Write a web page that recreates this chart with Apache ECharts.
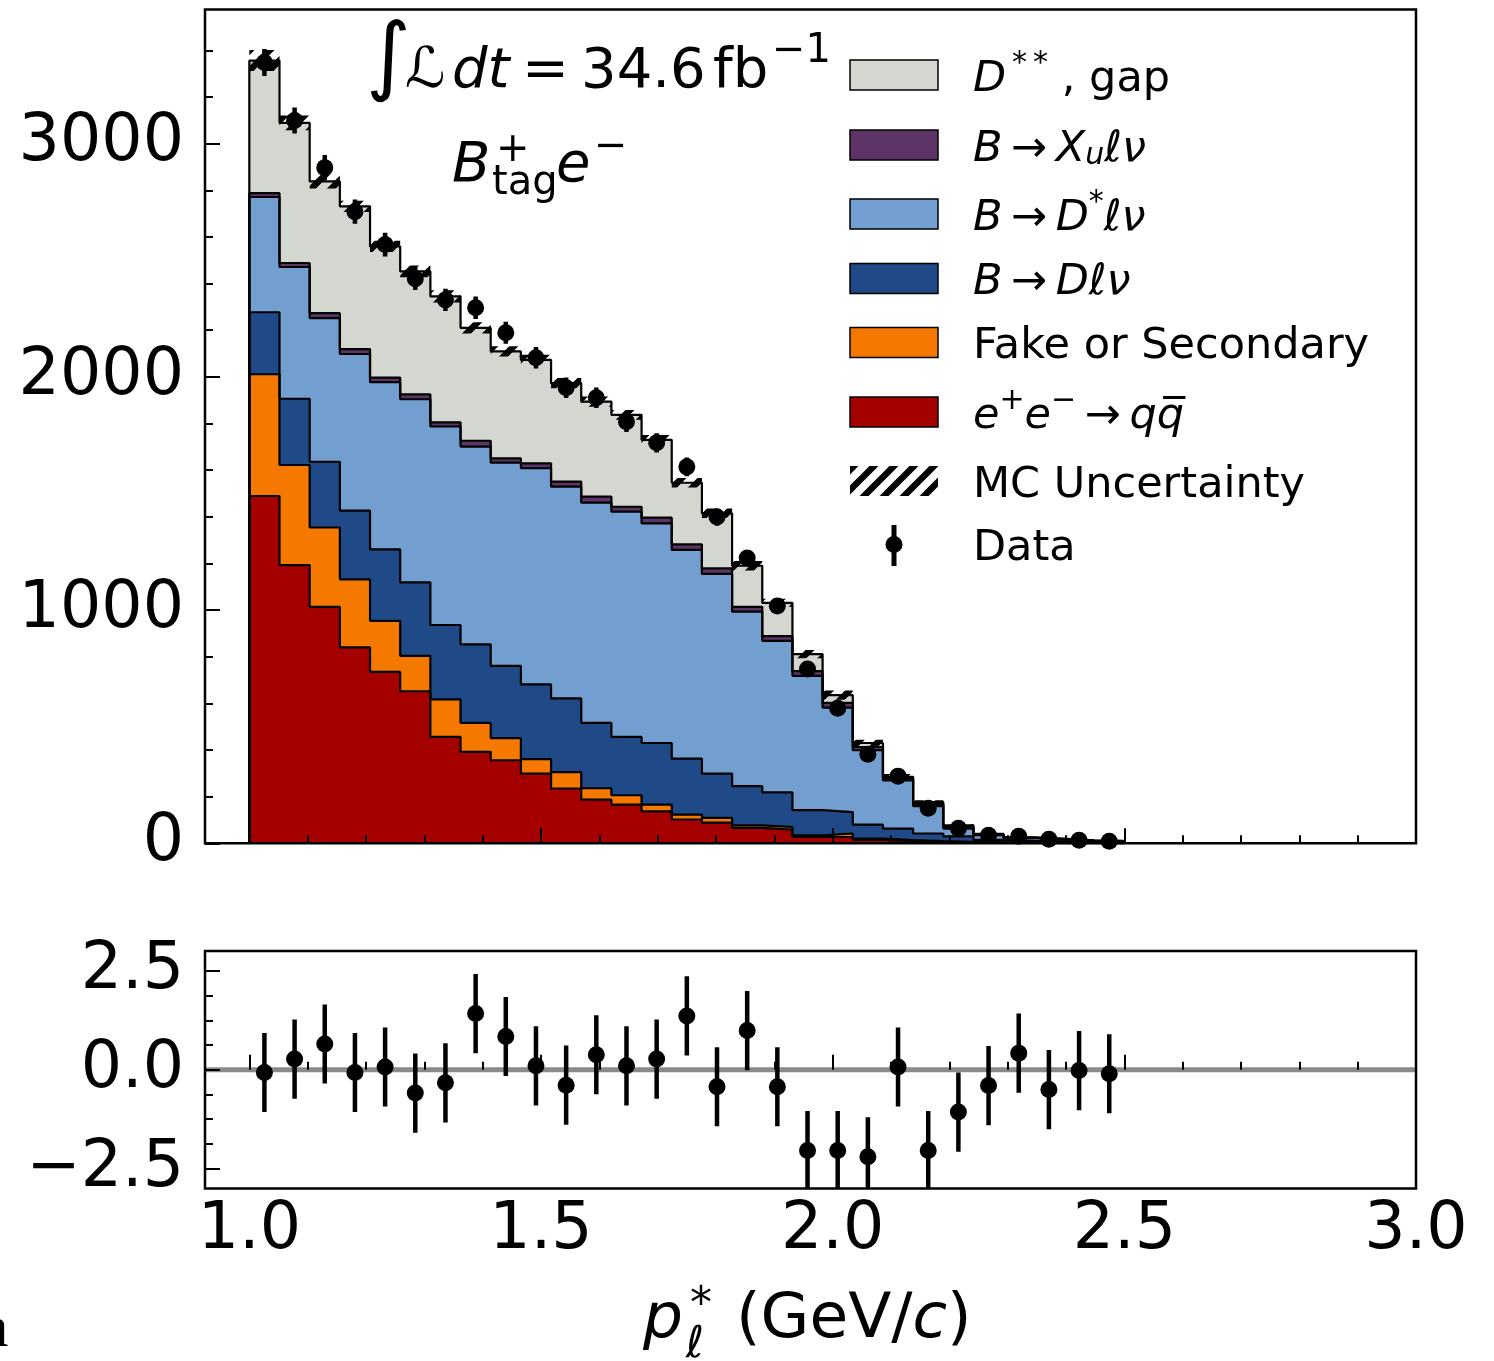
<!DOCTYPE html>
<html><head><meta charset="utf-8">
<script src="https://cdn.jsdelivr.net/npm/echarts@6/dist/echarts.min.js"></script>
<style>html,body{margin:0;padding:0;background:#fff}#c{width:1494px;height:1361px}</style>
</head><body><div id="c"></div>
<script>
// ---- data ----
const binEdges = [1.0, 1.05172, 1.10345, 1.15517, 1.2069, 1.25862, 1.31034, 1.36207, 1.41379, 1.46552,
  1.51724, 1.56897, 1.62069, 1.67241, 1.72414, 1.77586, 1.82759, 1.87931, 1.93103, 1.98276,
  2.03448, 2.08621, 2.13793, 2.18966, 2.24138, 2.2931, 2.34483, 2.39655, 2.44828, 2.5];

const qqbar     = [1489,1193,1014,840,735,652,456,392,356,299,235,187,166,137,102,89,66,59,27,27,15,10,5,3,2,1,1,1,0];
const fakeSec   = [522,429,340,292,219,152,161,124,95,62,70,49,40,29,21,20,11,11,7,15,5,4,4,3,2,2,1,1,1];
const bDlnu     = [266,284,282,294,306,315,319,337,310,320,316,280,250,264,240,190,168,148,108,92,60,49,33,24,11,7,6,2,2];
const bDstarlnu = [494,565,616,672,717,785,851,848,871,927,908,945,966,942,895,856,748,650,576,448,319,207,117,33,20,12,9,7,5];
const bXulnu    = [17,17,21,21,20,21,18,25,18,21,22,25,21,24,24,24,21,20,20,20,14,10,9,7,3,2,1,1,1];
const dssGap    = [568,601,565,612,562,527,540,484,459,444,422,408,394,334,264,236,176,143,73,33,17,5,9,7,2,2,2,1,1];
const mcUnc     = [45,32,30,24,24,25,26,24,22,22,22,22,21,21,20,20,20,17,18,20,14,12,8,6,4,3,2,2,2];

const dataVals  = [3348,3099,2897,2708,2567,2421,2330,2296,2189,2082,1953,1910,1807,1717,1614,1399,1223,1017,747,579,382,288,150,64,34,30,17,13,9];
const dataErr   = [58,56,54,52,51,49,48,48,47,46,44,44,43,41,40,37,35,32,27,24,20,17,12,8,6,5,4,4,3];

const pulls     = [-0.07,0.27,0.65,-0.07,0.07,-0.59,-0.33,1.42,0.84,0.10,-0.39,0.38,0.10,0.27,1.36,-0.43,0.99,-0.43,-2.04,-2.04,-2.20,0.07,-2.04,-1.07,-0.40,0.42,-0.50,-0.02,-0.10];
const pullErr   = [1,1,1,1,1,1,1,1,1,1,1,1,1,1,1,1,1,1,1,1,1,1,1,1,1,1,1,1,1];

const xMajorTicks = [1.0, 1.5, 2.0, 2.5, 3.0];
const xMinorTicks = [1.1,1.2,1.3,1.4,1.6,1.7,1.8,1.9,2.1,2.2,2.3,2.4,2.6,2.7,2.8,2.9];
const yMainMajor  = [0, 1000, 2000, 3000];
const yMainMinor  = [200,400,600,800,1200,1400,1600,1800,2200,2400,2600,2800,3200,3400];
const yRatioMajor = [-2.5, 0, 2.5];
const yRatioMinor = [-1.875,-1.25,-0.625,0.625,1.25,1.875];

const X_MIN = 0.924, X_MAX = 3.0, Y_MAX = 3575, R_MIN = -3, R_MAX = 3;

// layers bottom -> top
const layers = [
  {name: 'qq',    vals: qqbar,     color: '#a40000'},
  {name: 'fake',  vals: fakeSec,   color: '#f57900'},
  {name: 'Dlnu',  vals: bDlnu,     color: '#204a87'},
  {name: 'Dst',   vals: bDstarlnu, color: '#729fcf'},
  {name: 'Xu',    vals: bXulnu,    color: '#5c3566'},
  {name: 'gap',   vals: dssGap,    color: '#d3d7cf'}
];

// ---- helpers ----
const nb = dataVals.length;
const cums = [];
{
  let run = new Array(nb).fill(0);
  layers.forEach(l => { run = run.map((v, i) => v + l.vals[i]); cums.push(run.slice()); });
}
const total = cums[cums.length - 1];
const centers = binEdges.slice(0, nb).map((e, i) => (e + binEdges[i + 1]) / 2);

function stepData(cum) {
  const d = [[binEdges[0], 0]];
  for (let i = 0; i < nb; i++) d.push([binEdges[i], cum[i]]);
  d.push([binEdges[nb], cum[nb - 1]]);
  d.push([binEdges[nb], 0]);
  return d;
}

function makeHatch() {
  const s = 20, c = document.createElement('canvas');
  c.width = s; c.height = s;
  const g = c.getContext('2d');
  g.strokeStyle = '#000'; g.lineWidth = 6.5;
  for (const o of [-s, 0, s]) { g.beginPath(); g.moveTo(o - 2, s + 2); g.lineTo(o + s + 2, -2); g.stroke(); }
  return c;
}
const hatch = {image: makeHatch(), repeat: 'repeat'};

const FONT = "'DejaVu Sans', 'Noto Sans', sans-serif";

function errRender(params, api) {
  const x = api.value(0), v = api.value(1), e = api.value(2);
  const a = api.coord([x, v - e]), b = api.coord([x, v + e]);
  return {type: 'line', shape: {x1: a[0], y1: a[1], x2: b[0], y2: b[1]}, style: {stroke: '#000', lineWidth: 4.5}};
}
function hatchRender(params, api) {
  const xl = api.value(0), xr = api.value(1), t = api.value(2), u = api.value(3);
  const p1 = api.coord([xl, t + u]), p2 = api.coord([xr, t - u]);
  return {type: 'rect', shape: {x: p1[0], y: p1[1], width: p2[0] - p1[0], height: p2[1] - p1[1]}, style: {fill: hatch}};
}

// ---- axes ----
const labelStyle = {fontFamily: FONT, fontSize: 65, color: '#000'};
const fmt1 = v => v.toFixed(1).replace('-', '\u2212');
function xAx(grid, major, withLabel) {
  return {
    type: 'value', gridIndex: grid, min: X_MIN, max: X_MAX, position: 'bottom', z: 10,
    axisLine: {show: false}, splitLine: {show: false},
    axisTick: {show: true, inside: true, length: major ? 15 : 8, customValues: major ? xMajorTicks : xMinorTicks, lineStyle: {color: '#000', width: 2}},
    axisLabel: withLabel ? Object.assign({show: true, margin: 10, customValues: xMajorTicks, formatter: fmt1}, labelStyle) : {show: false}
  };
}
function yAx(grid, min, max, ticks, len, labels, formatter) {
  return {
    type: 'value', gridIndex: grid, min: min, max: max, position: 'left', z: 10,
    axisLine: {show: false}, splitLine: {show: false},
    axisTick: {show: true, inside: true, length: len, customValues: ticks, lineStyle: {color: '#000', width: 2}},
    axisLabel: labels ? Object.assign({show: true, margin: 21, customValues: ticks, formatter: formatter}, labelStyle) : {show: false}
  };
}

// ---- series ----
const series = [];
for (let k = layers.length - 1; k >= 0; k--) {
  series.push({
    type: 'line', step: 'end', xAxisIndex: 0, yAxisIndex: 0, data: stepData(cums[k]),
    symbol: 'none', showSymbol: false, silent: true, z: 2,
    lineStyle: {width: 0, opacity: 0}, areaStyle: {color: layers[k].color, opacity: 1}
  });
}
for (let k = layers.length - 1; k >= 0; k--) {
  series.push({
    type: 'line', step: 'end', xAxisIndex: 0, yAxisIndex: 0, data: stepData(cums[k]),
    symbol: 'none', showSymbol: false, silent: true, z: 3,
    lineStyle: {color: '#000', width: 2.2}
  });
}
series.push({
  type: 'custom', xAxisIndex: 0, yAxisIndex: 0, z: 4, clip: true, silent: true,
  renderItem: hatchRender, encode: {x: [0, 1], y: 2},
  data: total.map((t, i) => [binEdges[i], binEdges[i + 1], t, mcUnc[i]])
});
series.push({
  type: 'custom', xAxisIndex: 0, yAxisIndex: 0, z: 5, clip: true, silent: true,
  renderItem: errRender, encode: {x: 0, y: 1},
  data: dataVals.map((v, i) => [centers[i], v, dataErr[i]])
});
series.push({
  type: 'scatter', xAxisIndex: 0, yAxisIndex: 0, z: 6, silent: true,
  symbol: 'circle', symbolSize: 17, itemStyle: {color: '#000', opacity: 1},
  data: dataVals.map((v, i) => [centers[i], v])
});
// ratio
series.push({
  type: 'line', xAxisIndex: 2, yAxisIndex: 2, z: 2, silent: true, symbol: 'none',
  lineStyle: {color: '#8a8a8a', width: 5}, data: [[X_MIN, 0], [X_MAX, 0]]
});
series.push({
  type: 'custom', xAxisIndex: 2, yAxisIndex: 2, z: 5, clip: true, silent: true,
  renderItem: errRender, encode: {x: 0, y: 1},
  data: pulls.map((v, i) => [centers[i], v, pullErr[i]])
});
series.push({
  type: 'scatter', xAxisIndex: 2, yAxisIndex: 2, z: 6, silent: true,
  symbol: 'circle', symbolSize: 17, itemStyle: {color: '#000', opacity: 1},
  data: pulls.map((v, i) => [centers[i], v])
});

// ---- legend & annotations (graphic) ----
const legendRich = {
  n:   {fontFamily: FONT, fontSize: 43, lineHeight: 52, verticalAlign: 'bottom', color: '#000'},
  i:   {fontFamily: FONT, fontSize: 43, fontStyle: 'italic', lineHeight: 52, verticalAlign: 'bottom', color: '#000'},
  sup: {fontFamily: FONT, fontSize: 30, lineHeight: 30, verticalAlign: 'top', color: '#000'},
  sub: {fontFamily: FONT, fontSize: 30, fontStyle: 'italic', lineHeight: 30, verticalAlign: 'bottom', color: '#000'}
};
const legendEntries = [
  {cy: 75,    color: '#d3d7cf', text: '{i|D}{sup|\u2009*\u2009*}{n| , gap}'},
  {cy: 145,   color: '#5c3566', text: '{i|B}{n|\u2009\u2192\u2009}{i|X}{sub|u}{i|\u2113\u03bd}'},
  {cy: 214,   color: '#729fcf', text: '{i|B}{n|\u2009\u2192\u2009}{i|D}{sup|*}{i|\u2113\u03bd}'},
  {cy: 278.5, color: '#204a87', text: '{i|B}{n|\u2009\u2192\u2009}{i|D\u2113\u03bd}'},
  {cy: 342.5, color: '#f57900', text: '{n|Fake or Secondary}'},
  {cy: 412,   color: '#a40000', text: '{i|e}{sup|+}{i|e}{sup|\u2212}{n|\u2009\u2192\u2009}{i|q}{i|q\u0305}'},
  {cy: 481,   color: null,      text: '{n|MC Uncertainty}'},
  {cy: 544.5, color: 'data',    text: '{n|Data}'}
];
const graphics = [];
legendEntries.forEach(e => {
  if (e.color === 'data') {
    graphics.push({type: 'line', shape: {x1: 894, y1: 525, x2: 894, y2: 566}, style: {stroke: '#000', lineWidth: 5}});
    graphics.push({type: 'circle', shape: {cx: 894, cy: e.cy, r: 8.5}, style: {fill: '#000'}});
  } else if (e.color === null) {
    graphics.push({type: 'rect', shape: {x: 850, y: e.cy - 15, width: 88, height: 30}, style: {fill: hatch}});
  } else {
    graphics.push({type: 'rect', shape: {x: 850, y: e.cy - 15, width: 88, height: 30}, style: {fill: e.color, stroke: '#000', lineWidth: 1.5}});
  }
  graphics.push({type: 'text', x: 973, y: e.cy, style: {text: e.text, rich: legendRich, align: 'left', verticalAlign: 'middle', fill: '#000', fontFamily: FONT, fontSize: 43}});
});

function txt(x, y, s, size, opts) {
  return {type: 'text', x: x, y: y, style: Object.assign({text: s, fontFamily: FONT, fontSize: size, fill: '#000', align: 'left', verticalAlign: 'middle'}, opts || {})};
}
graphics.push(txt(366, 62, '\u222b', 86));
graphics.push(txt(405, 72.6, '\u2112', 56));
graphics.push(txt(452, 72.6, 'dt', 56, {fontStyle: 'italic'}));
graphics.push(txt(522, 72.6, '=', 56));
graphics.push(txt(581, 72.6, '34.6', 56));
graphics.push(txt(713, 72.6, 'fb', 56));
graphics.push(txt(772, 52, '\u22121', 40));

graphics.push(txt(452, 166, 'B', 56, {fontStyle: 'italic'}));
graphics.push(txt(496, 151, '+', 40));
graphics.push(txt(492, 184, 'tag', 40));
graphics.push(txt(556, 166, 'e', 56, {fontStyle: 'italic'}));
graphics.push(txt(594, 148, '\u2212', 40));

// x-axis title
graphics.push(txt(643, 1321, 'p', 63, {fontStyle: 'italic'}));
graphics.push(txt(690, 1307, '*', 44));
graphics.push(txt(686, 1346, '\u2113', 44, {fontStyle: 'italic'}));
graphics.push({type: 'text', x: 736, y: 1321, style: {text: '{n|(GeV/}{i|c}{n|)}', verticalAlign: 'middle', align: 'left',
  rich: {n: {fontFamily: FONT, fontSize: 63, color: '#000'}, i: {fontFamily: FONT, fontSize: 63, fontStyle: 'italic', color: '#000'}}}});
// clipped caption letter at bottom-left
graphics.push(txt(8.5, 1330, 'a', 60, {fontFamily: "'Liberation Serif', serif", align: 'right'}));

const option = {
  animation: false,
  backgroundColor: '#fff',
  grid: [
    {left: 205, right: 78, top: 9.5, bottom: 1361 - 843.3, show: true, borderColor: '#000', borderWidth: 2.5, backgroundColor: 'transparent', z: 10},
    {left: 205, right: 78, top: 951, bottom: 1361 - 1188.5, show: true, borderColor: '#000', borderWidth: 2.5, backgroundColor: 'transparent', z: 10}
  ],
  xAxis: [xAx(0, true, false), xAx(0, false, false), xAx(1, true, true), xAx(1, false, false)],
  yAxis: [
    yAx(0, 0, Y_MAX, yMainMajor, 15, true, v => String(v)),
    yAx(0, 0, Y_MAX, yMainMinor, 8, false),
    yAx(1, R_MIN, R_MAX, yRatioMajor, 15, true, fmt1),
    yAx(1, R_MIN, R_MAX, yRatioMinor, 8, false)
  ],
  series: series,
  graphic: graphics
};
const chart = echarts.init(document.getElementById('c'), null, {renderer: 'canvas'});
chart.setOption(option);
</script>
</body></html>
